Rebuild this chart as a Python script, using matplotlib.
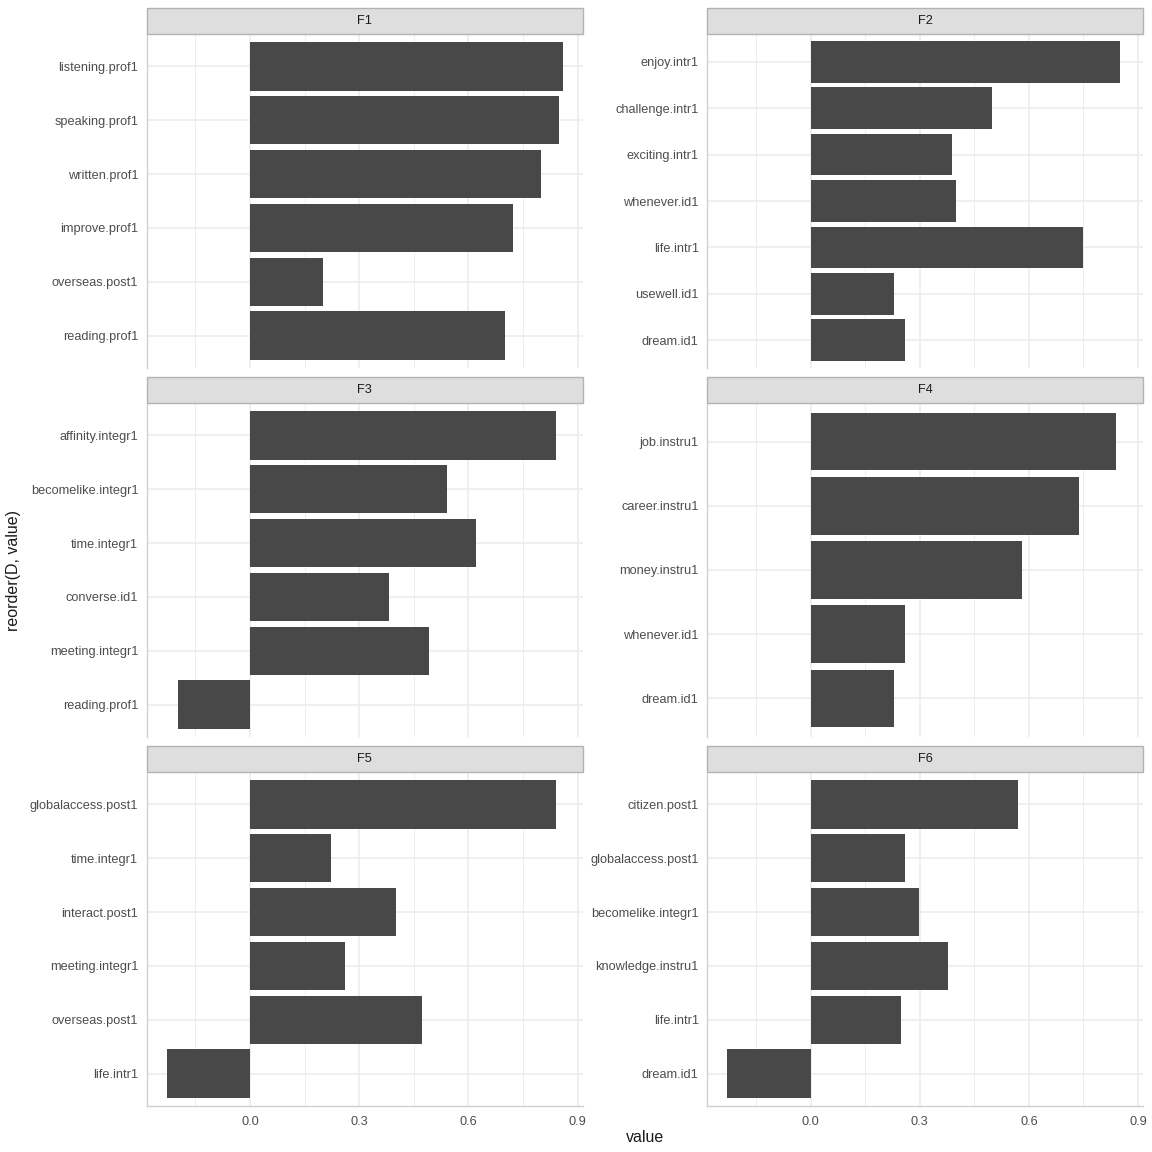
import matplotlib
matplotlib.use("Agg")
import matplotlib.pyplot as plt
from matplotlib.patches import Rectangle
import numpy as np

plt.rcParams['font.family'] = ['Liberation Sans', 'DejaVu Sans']

facets = ["F1", "F2", "F3", "F4", "F5", "F6"]

f1_labels = ["listening.prof1", "speaking.prof1", "written.prof1", "improve.prof1", "overseas.post1", "reading.prof1"]
f1_values = [0.860, 0.850, 0.801, 0.722, 0.200, 0.700]

f2_labels = ["enjoy.intr1", "challenge.intr1", "exciting.intr1", "whenever.id1", "life.intr1", "usewell.id1", "dream.id1"]
f2_values = [0.851, 0.500, 0.390, 0.401, 0.749, 0.230, 0.260]

f3_labels = ["affinity.integr1", "becomelike.integr1", "time.integr1", "converse.id1", "meeting.integr1", "reading.prof1"]
f3_values = [0.840, 0.540, 0.620, 0.382, 0.492, -0.197]

f4_labels = ["job.instru1", "career.instru1", "money.instru1", "whenever.id1", "dream.id1"]
f4_values = [0.840, 0.738, 0.580, 0.260, 0.230]

f5_labels = ["globalaccess.post1", "time.integr1", "interact.post1", "meeting.integr1", "overseas.post1", "life.intr1"]
f5_values = [0.840, 0.222, 0.401, 0.260, 0.472, -0.228]

f6_labels = ["citizen.post1", "globalaccess.post1", "becomelike.integr1", "knowledge.instru1", "life.intr1", "dream.id1"]
f6_values = [0.571, 0.260, 0.299, 0.379, 0.249, -0.230]

x_ticks = [0.0, 0.3, 0.6, 0.9]
x_tick_labels = ["0.0", "0.3", "0.6", "0.9"]
x_minor = [-0.15, 0.15, 0.45, 0.75]

all_labels = [f1_labels, f2_labels, f3_labels, f4_labels, f5_labels, f6_labels]
all_values = [f1_values, f2_values, f3_values, f4_values, f5_values, f6_values]

allv = np.concatenate([np.array(v) for v in all_values])
vmin, vmax = min(allv.min(), 0), allv.max()
R = vmax - vmin
xlim = (vmin - 0.05 * R, vmax + 0.05 * R)

W = H = 1152
fig = plt.figure(figsize=(W / 100, H / 100), dpi=100)

col_x = [(146.5, 582.8), (707, 1143.3)]
row_y = [(34, 368), (403, 737), (772, 1106)]
strip_h = 26

grid_c = "#EBEBEB"
axis_c = "#D0D0D0"
text_c = "#4D4D4D"

for i, (fac, labs, vals) in enumerate(zip(facets, all_labels, all_values)):
    r, c = divmod(i, 2)
    x0, x1 = col_x[c]
    y0, y1 = row_y[r]
    ax = fig.add_axes([x0 / W, 1 - y1 / H, (x1 - x0) / W, (y1 - y0) / H])
    n = len(labs)
    pos = np.arange(n)
    ax.barh(pos, vals, height=0.9, color="#484848", zorder=3)
    ax.set_ylim(n - 1 + 0.6, -0.6)
    ax.set_xlim(*xlim)
    ax.set_yticks(pos)
    ax.set_yticklabels(labs)
    ax.set_xticks(x_ticks)
    ax.set_xticks(x_minor, minor=True)
    if r == 2:
        ax.set_xticklabels(x_tick_labels)
    else:
        ax.set_xticklabels([])
    ax.tick_params(axis="both", which="both", length=0, colors=text_c, labelsize=9.2)
    ax.tick_params(axis="y", pad=6)
    ax.tick_params(axis="x", pad=7)
    ax.grid(True, which="major", color=grid_c, lw=1.1, zorder=0)
    ax.grid(True, which="minor", axis="x", color=grid_c, lw=0.6, zorder=0)
    ax.set_axisbelow(True)
    for s in ["top", "right"]:
        ax.spines[s].set_visible(False)
    ax.spines["left"].set_color(axis_c)
    ax.spines["left"].set_linewidth(1.0)
    if r == 2:
        ax.spines["bottom"].set_color(axis_c)
        ax.spines["bottom"].set_linewidth(1.0)
    else:
        ax.spines["bottom"].set_visible(False)
    # strip
    sax = fig.add_axes([x0 / W, 1 - y0 / H, (x1 - x0) / W, strip_h / H])
    sax.set_xlim(0, 1)
    sax.set_ylim(0, 1)
    sax.axis("off")
    sax.add_patch(Rectangle((0, 0), 1, 1, facecolor="#DEDEDE", edgecolor="#B3B3B3",
                            lw=1.0, transform=sax.transAxes, clip_on=False))
    sax.text(0.5, 0.5, fac, ha="center", va="center", fontsize=9.2, color="#1A1A1A")

fig.text(645 / W, 1 - 1138 / H, "value", ha="center", va="center", fontsize=11.5, color="#1A1A1A")
fig.text(14 / W, 1 - 570 / H, "reorder(D, value)", ha="center", va="center", rotation=90,
         fontsize=11.5, color="#1A1A1A")

fig.savefig("out.png", dpi=100, facecolor="white")
